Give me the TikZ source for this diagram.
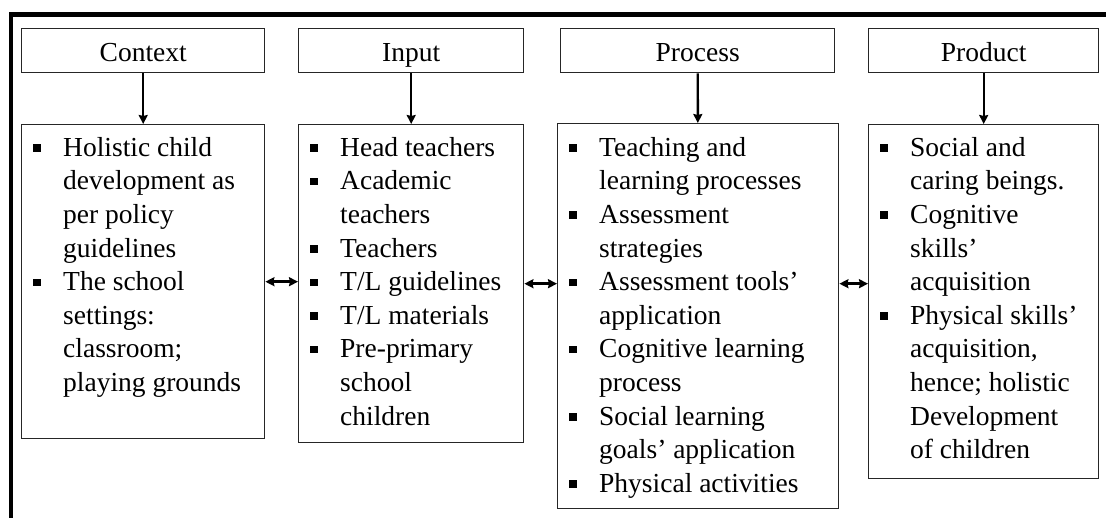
\documentclass[tikz,border=0pt]{standalone}
\usepackage{fontspec}
\setmainfont{Liberation Serif}
\usetikzlibrary{arrows.meta}

\newcommand{\bul}{\makebox[30pt][l]{\rule[4.5pt]{7.5pt}{7.5pt}}}
\newcommand{\ind}{\hspace*{30pt}}

\begin{document}
\begin{tikzpicture}[%
	x=1pt, y=-1pt,
	>={Stealth[length=9pt,width=9pt,inset=1pt]},
	every node/.style={font=\fontsize{27.5}{33.6}\selectfont},
	head/.style={draw=black!85, line width=1.4pt, anchor=north west,
		minimum width=#1, minimum height=44pt, inner sep=0pt,
		text height=24pt, text depth=2pt},
	box/.style 2 args={draw=black!85, line width=1.4pt, anchor=north west,
		minimum width=#1, minimum height=#2, inner sep=0pt},
	list/.style={anchor=north west, align=left, inner sep=0pt},
	link/.style={line width=2.4pt}
	]
	\useasboundingbox (0,0) rectangle (1106,518);
	
	% frame
	\draw[line width=4.5pt] (11,518) -- (11,14.5) -- (1106,14.5);
	
	% headings
	\node[head=243pt] (h1) at (21,28) {Context};
	\node[head=225pt] (h2) at (298,28) {Input};
	\node[head=274pt] (h3) at (560,28) {Process};
	\node[head=230pt] (h4) at (868,28) {Product};
	
	% boxes
	\node[box={243pt}{314pt}] (b1) at (21,124) {};
	\node[box={225pt}{318pt}] (b2) at (298,124) {};
	\node[box={281pt}{385pt}] (b3) at (557,123) {};
	\node[box={230pt}{354pt}] (b4) at (868,124) {};
	
	\node[list] (t1) at ([xshift=12pt,yshift=-8.5pt]b1.north west)
	{\strut\bul Holistic child\\ \ind development as\\ \ind per policy\\
		\ind guidelines\\ \bul The school\\ \ind settings:\\ \ind classroom;\\
		\ind playing grounds};
	\node[list] (t2) at ([xshift=12pt,yshift=-8.5pt]b2.north west)
	{\strut\bul Head teachers\\ \bul Academic\\ \ind teachers\\ \bul Teachers\\
		\bul T/L guidelines\\ \bul T/L materials\\ \bul Pre-primary\\
		\ind school\\ \ind children};
	\node[list] (t3) at ([xshift=12pt,yshift=-9.5pt]b3.north west)
	{\strut\bul Teaching and\\ \ind learning processes\\ \bul Assessment\\
		\ind strategies\\ \bul Assessment tools’\\ \ind application\\
		\bul Cognitive learning\\ \ind process\\ \bul Social learning\\
		\ind goals’ application\\ \bul Physical activities};
	\node[list] (t4) at ([xshift=12pt,yshift=-8.5pt]b4.north west)
	{\strut\bul Social and\\ \ind caring beings.\\ \bul Cognitive\\
		\ind skills’\\ \ind acquisition\\ \bul Physical skills’\\
		\ind acquisition,\\ \ind hence; holistic\\ \ind Development\\
		\ind of children};
	
	\path[->, link] (h1) edge (b1)
	(h2) edge (b2)
	(h3) edge (b3)
	(h4) edge (b4);
	
	\draw[<->, link] (b1.east) -- (b2.west |- b1.east);
	\draw[<->, link] (b2.east) -- (b3.west |- b2.east);
	\draw[<->, link] (b3.east |- b2.east) -- (b4.west |- b2.east);
\end{tikzpicture}
\end{document}
